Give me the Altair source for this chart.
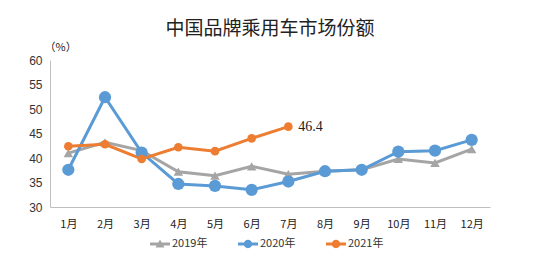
import altair as alt
import pandas as pd

months = ["1月", "2月", "3月", "4月", "5月", "6月", "7月", "8月", "9月", "10月", "11月", "12月"]
s2019 = [41.0, 43.2, 41.5, 37.2, 36.4, 38.3, 36.7, 37.3, 37.6, 39.8, 39.0, 41.8]
s2020 = [37.6, 52.4, 41.1, 34.7, 34.3, 33.5, 35.2, 37.3, 37.6, 41.3, 41.5, 43.7]
s2021 = [42.4, 42.8, 39.8, 42.2, 41.4, 44.0, 46.4]
series = ["2019年", "2020年", "2021年"]
colors = ["#A5A5A5", "#5B9BD5", "#ED7D31"]

rows = []
for name, vals in zip(series, [s2019, s2020, s2021]):
    for i, v in enumerate(vals):
        rows.append({"month": months[i], "series": name, "value": v, "order": series.index(name)})
df = pd.DataFrame(rows)

last = df[(df.series == "2021年") & (df.month == "7月")].copy()
last["label"] = last["value"].map(lambda v: f"{v:.1f}")

bar = "M-1,-0.14 L1,-0.14 L1,0.14 L-1,0.14 Z "
leg_circle = bar + "M0.42,0 A0.42,0.42 0 1,1 -0.42,0 A0.42,0.42 0 1,1 0.42,0 Z"
leg_tri = bar + "M0,-0.45 L0.45,0.35 L-0.45,0.35 Z"

x = alt.X("month:N", sort=months, title=None,
          axis=alt.Axis(labelAngle=0, ticks=False, domainColor="#BFBFBF",
                        labelFont="Noto Sans CJK SC", labelFontSize=11,
                        labelColor="#222", labelPadding=11),
          scale=alt.Scale(paddingInner=0, paddingOuter=0))
y = alt.Y("value:Q", title="（%）",
          scale=alt.Scale(domain=[30, 60], nice=False, zero=False),
          axis=alt.Axis(values=[30, 35, 40, 45, 50, 55, 60], grid=False, ticks=False,
                        domainColor="#BFBFBF", labelFont="Liberation Sans",
                        labelFontSize=12, labelColor="#333", labelPadding=8,
                        titleAngle=0, titleX=-6, titleY=-8, titleFont="Noto Sans CJK SC",
                        titleFontSize=11, titleFontWeight="normal", titleColor="#222",
                        titleAlign="left"))
cscale = alt.Scale(domain=series, range=colors)
cnoleg = alt.Color("series:N", scale=cscale, legend=None)

lines = alt.Chart(df).mark_line(strokeWidth=3).encode(
    x=x, y=y, color=cnoleg, order="order:Q", detail="series:N")

pt_layers = []
for name, shp, sz in zip(series, ["triangle-up", "circle", "circle"], [90, 150, 75]):
    pt_layers.append(
        alt.Chart(df[df.series == name]).mark_point(filled=True, opacity=1, shape=shp, size=sz)
        .encode(x=x, y=y, color=cnoleg)
    )

leg = alt.Legend(title=None, orient="none", direction="horizontal",
                 legendX=100, legendY=174, symbolSize=400,
                 symbolOpacity=1, symbolStrokeWidth=0,
                 labelFont="Noto Sans CJK SC", labelFontSize=11,
                 labelColor="#333", columnPadding=30, labelOffset=2)
legend_layer = alt.Chart(df).mark_point(filled=True, opacity=0).encode(
    x=x, y=y,
    color=alt.Color("series:N", scale=cscale, legend=leg),
    shape=alt.Shape("series:N", scale=alt.Scale(domain=series, range=[leg_tri, leg_circle, leg_circle]),
                    legend=leg),
)

label = alt.Chart(last).mark_text(align="left", dx=10, font="Liberation Serif", fontSize=14,
                                  color="#222").encode(x=x, y=y, text="label:N")

chart = alt.layer(legend_layer, lines, *pt_layers, label).properties(
    width=440, height=147,
    title=alt.TitleParams("中国品牌乘用车市场份额", font="Noto Sans CJK SC", fontSize=19,
                          fontWeight="normal", color="#222", anchor="middle", offset=2),
    autosize=alt.AutoSizeParams(type="none"),
    padding={"left": 50, "top": 60, "right": 54, "bottom": 59},
).configure_view(stroke=None)

chart.save("out.html", embed_options={"renderer": "svg", "actions": False})
